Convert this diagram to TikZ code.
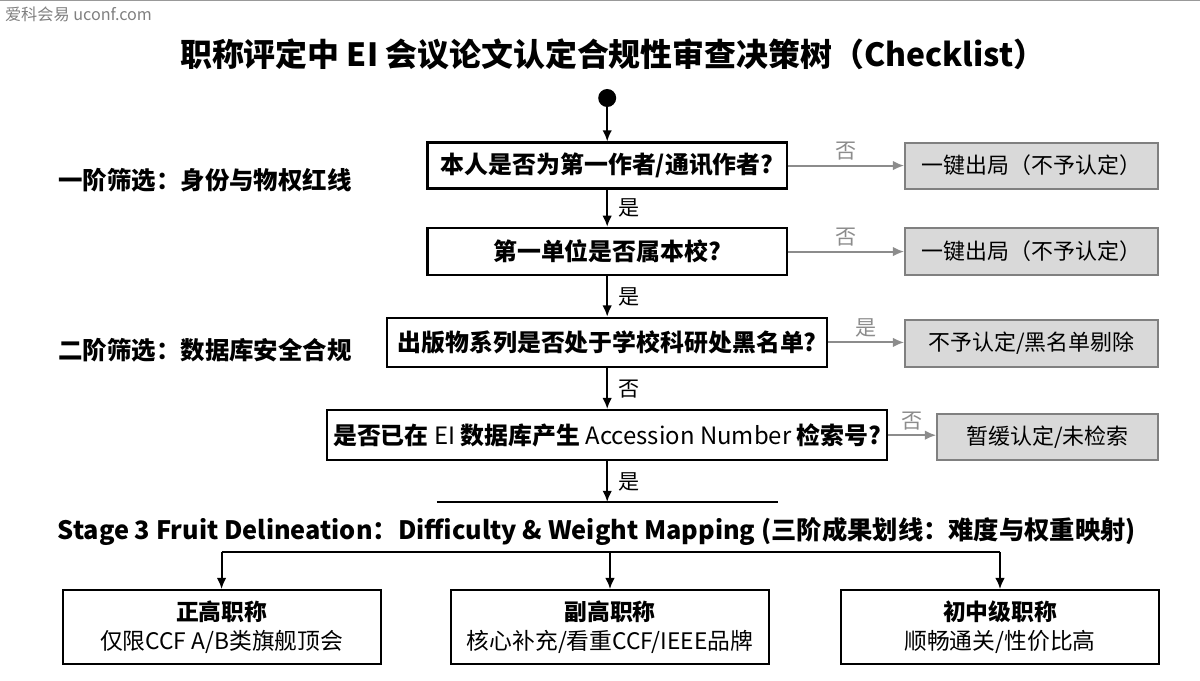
\documentclass[tikz,border=0pt]{standalone}
\usepackage{fontspec}
\setmainfont{Noto Sans CJK SC}
\usetikzlibrary{arrows.meta,positioning,calc}

\begin{document}
\begin{tikzpicture}[
  every node/.style={font=\fontsize{16}{19}\selectfont},
  q/.style={draw=black,line width=1.6pt,align=center,inner sep=2pt,minimum height=1.15cm,font=\fontsize{17}{20}\selectfont\bfseries},
  outb/.style={draw=black!50,fill=black!15,line width=1.3pt,align=center,minimum width=6.33cm,minimum height=1.15cm,font=\fontsize{15.6}{18}\selectfont},
  grd/.style={draw=black,line width=1.5pt,align=center,minimum width=7.95cm,minimum height=1.85cm,font=\fontsize{16.2}{20}\selectfont},
  stg/.style={font=\fontsize{17.4}{20}\selectfont\bfseries,anchor=west,inner sep=0pt},
  yn/.style={font=\fontsize{15}{18}\selectfont,inner sep=3pt},
  ar/.style={-{Latex[length=2.8mm,width=2.4mm]},line width=1.5pt},
  gar/.style={-{Latex[length=2.8mm,width=2.4mm]},line width=1.3pt,black!45}]
\useasboundingbox (-15,-8.5) rectangle (15,8.5);
\draw[black!40,line width=1pt] (-15,8.5) -- (15,8.5);
\node[font=\fontsize{11.5}{13}\selectfont,text=black!50,anchor=west,inner sep=0pt] (wm) at (-14.88,8.15) {爱科会易 uconf.com};
\node[font=\fontsize{22.7}{27}\selectfont\bfseries] (title) at (0.32,7.13) {职称评定中 EI 会议论文认定合规性审查决策树（Checklist）};
% stage labels
\node[stg] (st1) at (-13.55,4.0) {一阶筛选：身份与物权红线};
\node[stg] (st2) at (-13.55,-0.25) {二阶筛选：数据库安全合规};
% main chain
\node[circle,fill=black,inner sep=0pt,minimum size=0.45cm] (start) at (0.18,6.05) {};
\node[q,minimum width=8.98cm] (q1) at (0.18,4.36) {本人是否为第一作者/通讯作者?};
\node[q,minimum width=8.98cm,minimum height=1.18cm] (q2) at (0.18,2.21) {第一单位是否属本校?};
\node[q,minimum width=11cm,minimum height=1.23cm] (q3) at (0.18,-0.06) {出版物系列是否处于学校科研处黑名单?};
\node[q,minimum width=14cm,minimum height=1.25cm] (q4) at (0.18,-2.38) {是否已在 {\mdseries EI} 数据库产生 {\mdseries Accession Number} 检索号?};
% exits
\node[outb] (o1) at (10.79,4.36) {一键出局（不予认定）};
\node[outb,minimum height=1.18cm] (o2) at (10.79,2.21) {一键出局（不予认定）};
\node[outb,minimum height=1.18cm] (o3) at (10.79,-0.09) {不予认定/黑名单剔除};
\node[outb,minimum width=5.53cm] (o4) at (11.19,-2.43) {暂缓认定/未检索};
\draw[ar] (start) -- (q1);
\draw[ar] (q1) -- node[yn,right,xshift=4pt] {是} (q2);
\draw[ar] (q2) -- node[yn,right,xshift=4pt] {是} (q3);
\draw[ar] (q3) -- node[yn,right,xshift=4pt] {否} (q4);
\draw[gar] (q1) -- node[yn,above,text=black!45] {否} (o1);
\draw[gar] (q2) -- node[yn,above,text=black!45] {否} (o2);
\draw[gar] (q3.east) -- node[yn,above,text=black!45] {是} (o3.west |- q3.east);
\draw[gar] (q4.east) -- node[yn,above,text=black!45] {否} (o4.west |- q4.east);
% stage 3
\coordinate (barL) at (-4.08,-4.05);
\coordinate (barR) at (4.45,-4.05);
\coordinate (barM) at (0.18,-4.05);
\draw[line width=1.8pt] (barL) -- (barR);
\draw[ar] (q4) -- node[yn,right,xshift=4pt] {是} (barM);
\node[font=\fontsize{18}{21}\selectfont\bfseries] (s3) at (-0.08,-4.78) {Stage 3 Fruit Delineation：Difficulty \& Weight Mapping (三阶成果划线：难度与权重映射)};
\node[grd] (pA) at (-9.46,-7.18) {\textbf{正高职称}\\仅限CCF A/B类旗舰顶会};
\node[grd] (pB) at (0.25,-7.18) {\textbf{副高职称}\\核心补充/看重CCF/IEEE品牌};
\node[grd] (pC) at (10.0,-7.18) {\textbf{初中级职称}\\顺畅通关/性价比高};
\draw[line width=1.5pt] (pA.north |- 0,-5.3) -- (pC.north |- 0,-5.3);
\foreach \p in {pA,pB,pC} \draw[ar] (\p.north |- 0,-5.3) -- (\p);
\end{tikzpicture}
\end{document}
